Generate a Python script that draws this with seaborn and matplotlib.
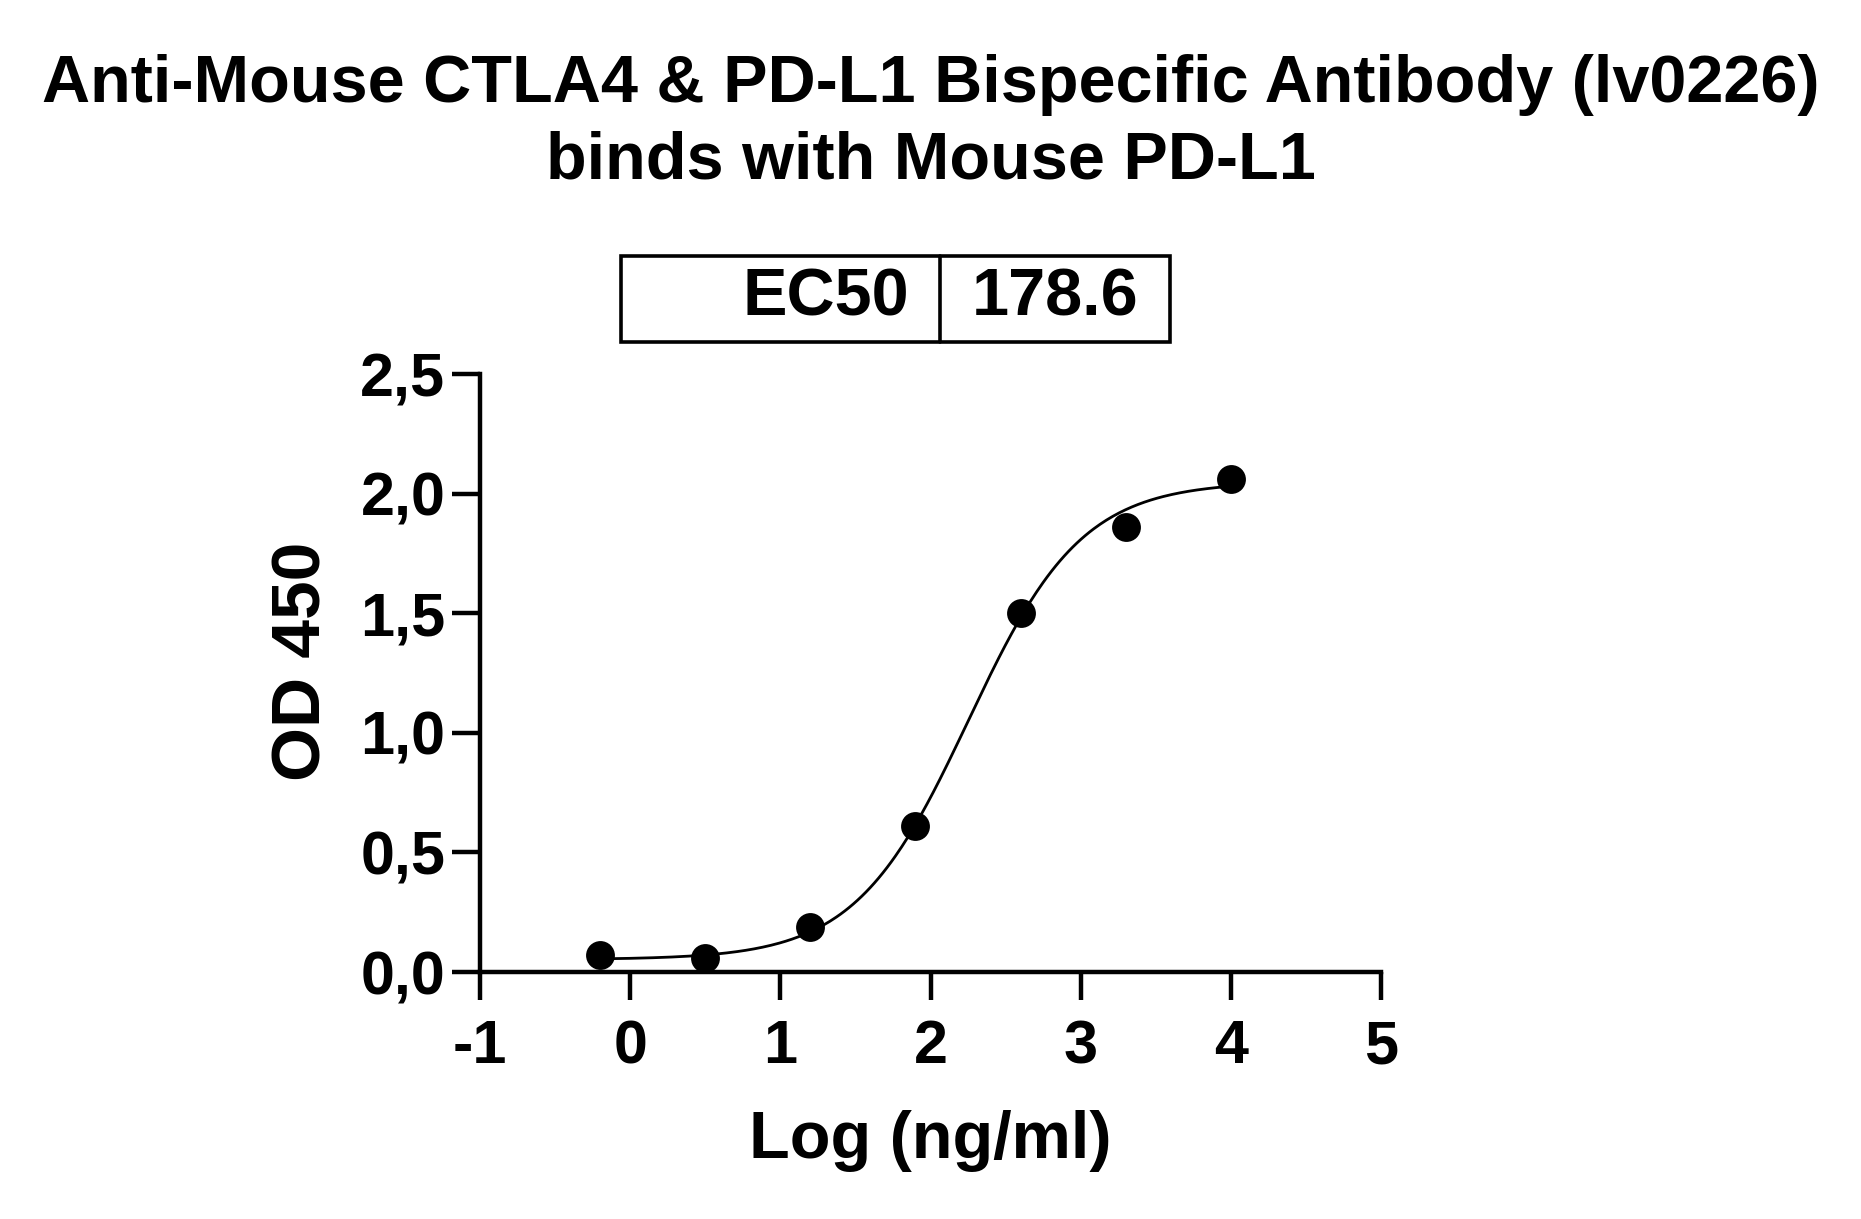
import numpy as np
import pandas as pd
import matplotlib
matplotlib.use("Agg")
import matplotlib.pyplot as plt
import matplotlib.patches as mpatches
from matplotlib.ticker import FuncFormatter
import seaborn as sns

# data
log_conc = [-0.2, 0.5, 1.2, 1.9, 2.6, 3.3, 4.0]
od450 = [0.07, 0.06, 0.19, 0.61, 1.50, 1.86, 2.06]

# 4PL fit parameters (EC50 as reported in the table)
ec50 = 178.6
fit_bottom = 0.052
fit_top = 2.05
fit_hill = 1.15

x_ticks = [-1, 0, 1, 2, 3, 4, 5]
y_ticks = [0.0, 0.5, 1.0, 1.5, 2.0, 2.5]

title = "Anti-Mouse CTLA4 & PD-L1 Bispecific Antibody (lv0226)\nbinds with Mouse PD-L1"

sns.set_style("ticks")
plt.rcParams["font.family"] = ["Liberation Sans", "DejaVu Sans"]
plt.rcParams["font.weight"] = "bold"
plt.rcParams["axes.unicode_minus"] = False
plt.rcParams["text.color"] = "black"
plt.rcParams["axes.labelcolor"] = "black"
plt.rcParams["xtick.color"] = "black"
plt.rcParams["ytick.color"] = "black"

W, H = 1861, 1219
fig = plt.figure(figsize=(W / 100, H / 100), dpi=100)
ax = fig.add_axes([480 / W, 1 - 972 / H, (1381 - 480) / W, (972 - 374) / H])

pts = pd.DataFrame({"x": log_conc, "y": od450})
xs = np.linspace(min(log_conc), max(log_conc), 300)
curve = pd.DataFrame({
    "x": xs,
    "y": fit_bottom + (fit_top - fit_bottom) / (1 + 10 ** ((np.log10(ec50) - xs) * fit_hill)),
})

sns.lineplot(data=curve, x="x", y="y", ax=ax, color="black", linewidth=2.0)
sns.scatterplot(data=pts, x="x", y="y", ax=ax, color="black", s=370,
                edgecolor="black", zorder=5, clip_on=False)

ax.set_xlim(-1, 5)
ax.set_ylim(0, 2.5)
ax.set_xticks(x_ticks)
ax.set_yticks(y_ticks)
ax.yaxis.set_major_formatter(FuncFormatter(lambda v, p: f"{v:.1f}".replace(".", ",")))
sns.despine(ax=ax)
for s in ["left", "bottom"]:
    ax.spines[s].set_linewidth(3.2)
    ax.spines[s].set_color("black")
ax.tick_params(axis="both", length=20, width=3.2, color="black", labelcolor="black", labelsize=44)
ax.tick_params(axis="x", pad=14)
ax.tick_params(axis="y", pad=5)
for lab in ax.get_xticklabels() + ax.get_yticklabels():
    lab.set_fontweight("bold")

ax.set_xlabel("Log (ng/ml)", fontsize=48, fontweight="bold", labelpad=24, color="black")
ax.set_ylabel("OD 450", fontsize=50, fontweight="bold", color="black")
ax.yaxis.set_label_coords(-0.162, 0.52)

fig.text(0.5, 1 - 123 / H, title, ha="center", va="center", fontsize=48,
         fontweight="bold", linespacing=1.3, color="black")

# EC50 table
bx0, bx1, by0, by1, xdiv = 621, 1170, 256, 342, 940
fig.patches.append(mpatches.Rectangle((bx0 / W, 1 - by1 / H), (bx1 - bx0) / W, (by1 - by0) / H,
                                      transform=fig.transFigure, fill=False,
                                      edgecolor="black", linewidth=2.6))
fig.lines.append(plt.Line2D([xdiv / W, xdiv / W], [1 - by1 / H, 1 - by0 / H],
                            transform=fig.transFigure, color="black", linewidth=2.6))
fig.text(909 / W, 1 - 299 / H, "EC50", ha="right", va="center", fontsize=48,
         fontweight="bold", color="black")
fig.text((xdiv + bx1) / 2 / W, 1 - 299 / H, f"{ec50}", ha="center", va="center",
         fontsize=48, fontweight="bold", color="black")

fig.savefig("out.png", dpi=100, facecolor="white")
